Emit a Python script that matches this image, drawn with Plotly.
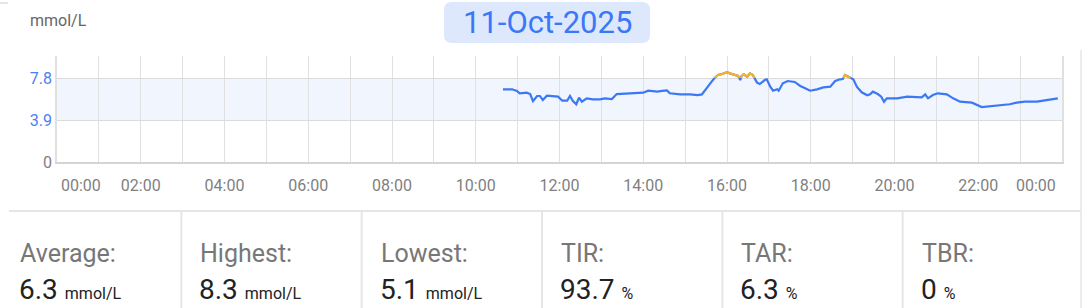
import plotly.graph_objects as go
import pandas as pd

# ---------------- data ----------------
day = "2025-10-11"
title_text = "11-Oct-2025"
unit_label = "mmol/L"

times = ["10:39", "10:52", "10:59", "11:03", "11:13", "11:18", "11:22", "11:28", "11:32", "11:36",
         "11:42", "11:51", "11:58", "12:04", "12:11", "12:15", "12:19", "12:24", "12:28", "12:32",
         "12:39", "12:48", "12:58", "13:05", "13:15", "13:22", "13:31", "13:41", "13:51", "14:00",
         "14:07", "14:14", "14:20", "14:27", "14:34", "14:38", "14:45", "14:53", "15:07", "15:18",
         "15:24", "15:31", "15:38", "15:41", "15:47", "15:53", "16:00", "16:04", "16:11", "16:16",
         "16:19", "16:21", "16:24", "16:29", "16:33", "16:37", "16:43", "16:47", "16:54", "16:57",
         "17:02", "17:06", "17:12", "17:14", "17:20", "17:27", "17:37", "17:45", "17:52", "17:59",
         "18:09", "18:18", "18:28", "18:35", "18:42", "18:46", "18:49", "18:53", "19:01", "19:06",
         "19:13", "19:21", "19:25", "19:29", "19:36", "19:41", "19:45", "19:49", "20:04", "20:18",
         "20:32", "20:39", "20:44", "20:48", "20:55", "21:02", "21:15", "21:24", "21:34", "21:51",
         "22:05", "22:21", "22:31", "22:45", "22:55", "23:07", "23:24", "23:33", "23:43", "23:54"]
glucose = [6.75, 6.75, 6.60, 6.38, 6.44, 6.31, 5.66, 6.13, 6.13, 5.76,
           6.16, 6.13, 6.07, 5.69, 5.69, 6.13, 5.69, 5.36, 5.97, 5.60,
           5.91, 5.82, 5.82, 5.91, 5.85, 6.31, 6.34, 6.34, 6.40, 6.44,
           6.62, 6.60, 6.53, 6.60, 6.65, 6.38, 6.34, 6.28, 6.28, 6.22,
           6.28, 6.93, 7.46, 7.71, 8.08, 8.17, 8.33, 8.23, 8.08, 7.99,
           7.61, 7.99, 8.14, 7.92, 8.23, 8.08, 7.37, 7.24, 7.61, 7.68,
           6.99, 6.62, 6.75, 6.62, 7.31, 7.52, 7.43, 7.06, 6.84, 6.62,
           6.75, 6.93, 6.99, 7.52, 7.68, 7.71, 8.08, 7.92, 7.68, 6.99,
           6.47, 6.19, 6.28, 6.53, 6.31, 6.07, 5.60, 5.91, 5.91, 6.07,
           6.07, 6.00, 6.28, 5.91, 6.22, 6.38, 6.28, 5.91, 5.60, 5.51,
           5.10, 5.20, 5.32, 5.36, 5.51, 5.60, 5.60, 5.69, 5.85, 5.91]

target_low = 3.9
target_high = 7.8
y_tick_vals = [0, 3.9, 7.8]
y_tick_text = ["0", "3.9", "7.8"]
x_label_hours = [2, 4, 6, 8, 10, 12, 14, 16, 18, 20, 22]
x_label_text = ["02:00", "04:00", "06:00", "08:00", "10:00", "12:00", "14:00",
                "16:00", "18:00", "20:00", "22:00"]

stat_labels = ["Average:", "Highest:", "Lowest:", "TIR:", "TAR:", "TBR:"]
stat_values = ["6.3", "8.3", "5.1", "93.7", "6.3", "0"]
stat_units = ["mmol/L", "mmol/L", "mmol/L", "%", "%", "%"]

# ---------------- styling ----------------
W, H = 1084, 308
L, R, T, B = 57, 1062, 56, 162
FONT = "Roboto"
BLUE = "#3b78f5"
ORANGE = "#f7b226"
GRID = "#e0e0e0"

base = pd.Timestamp(day)
t = [base + pd.Timedelta(hours=int(s[:2]), minutes=int(s[3:])) for s in times]


def px(xp):
    return (xp - L) / (R - L)


def py(yp):
    return (B - yp) / (B - T)


# orange (above target) segments, split at threshold crossings
ox, oy = [], []
for i in range(len(t) - 1):
    a, b = glucose[i], glucose[i + 1]
    if a <= target_high and b <= target_high:
        continue
    ta, tb = t[i], t[i + 1]
    if a > target_high and b > target_high:
        seg = [(ta, a), (tb, b)]
    else:
        f = (target_high - a) / (b - a)
        tc = ta + (tb - ta) * f
        seg = [(tc, target_high), (tb, b)] if b > target_high else [(ta, a), (tc, target_high)]
    if ox and ox[-1] is not None and ox[-1] == seg[0][0]:
        ox.append(seg[1][0]); oy.append(seg[1][1])
    else:
        if ox:
            ox.append(None); oy.append(None)
        ox += [seg[0][0], seg[1][0]]; oy += [seg[0][1], seg[1][1]]

fig = go.Figure()
fig.add_trace(go.Scatter(x=t, y=glucose, mode="lines",
                         line=dict(color=BLUE, width=2.2, shape="linear"),
                         hoverinfo="skip", showlegend=False))
fig.add_trace(go.Scatter(x=ox, y=oy, mode="lines",
                         line=dict(color=ORANGE, width=2.2),
                         hoverinfo="skip", showlegend=False, connectgaps=False))

shapes = []
# target band
shapes.append(dict(type="rect", xref="paper", yref="y", x0=0, x1=1,
                   y0=target_low, y1=target_high, fillcolor="#f1f5fe",
                   line=dict(width=0), layer="below"))
# title box (rounded)
bx0, bx1, by0, by1, r = 444, 650, 2, 43, 8
path = (f"M {px(bx0 + r)} {py(by0)} L {px(bx1 - r)} {py(by0)} "
        f"Q {px(bx1)} {py(by0)} {px(bx1)} {py(by0 + r)} "
        f"L {px(bx1)} {py(by1 - r)} Q {px(bx1)} {py(by1)} {px(bx1 - r)} {py(by1)} "
        f"L {px(bx0 + r)} {py(by1)} Q {px(bx0)} {py(by1)} {px(bx0)} {py(by1 - r)} "
        f"L {px(bx0)} {py(by0 + r)} Q {px(bx0)} {py(by0)} {px(bx0 + r)} {py(by0)} Z")
shapes.append(dict(type="path", xref="paper", yref="paper", path=path,
                   fillcolor="#dde8fd", line=dict(width=0)))
# card borders
CARD = "#e6e6e6"
shapes.append(dict(type="line", xref="paper", yref="paper", x0=px(0), x1=px(8),
                   y0=py(3), y1=py(3), line=dict(color=CARD, width=2)))
shapes.append(dict(type="line", xref="paper", yref="paper", x0=px(1081), x1=px(1081),
                   y0=py(50), y1=py(308), line=dict(color=CARD, width=1.5)))
shapes.append(dict(type="line", xref="paper", yref="paper", x0=px(9), x1=px(1081),
                   y0=py(211), y1=py(211), line=dict(color=CARD, width=2)))
col_w = (1083 - 1) / 6
for k in range(1, 6):
    xd = 1 + k * col_w
    shapes.append(dict(type="line", xref="paper", yref="paper", x0=px(xd), x1=px(xd),
                       y0=py(211), y1=py(308), line=dict(color=CARD, width=2)))

annotations = []
annotations.append(dict(text=title_text, xref="paper", yref="paper", x=px(547), y=py(23),
                        xanchor="center", yanchor="middle", showarrow=False,
                        font=dict(family=FONT, size=31, color=BLUE)))
annotations.append(dict(text=unit_label, xref="paper", yref="paper", x=px(28), y=py(21),
                        xanchor="left", yanchor="middle", showarrow=False,
                        font=dict(family=FONT, size=16, color="#666666")))
# end labels of x axis (shifted inside like the reference)
TICKC = "#7f7f7f"
annotations.append(dict(text="00:00", xref="x", yref="paper", x=base, y=py(185),
                        xanchor="left", yanchor="middle", showarrow=False, xshift=2,
                        font=dict(family=FONT, size=16, color=TICKC)))
annotations.append(dict(text="00:00", xref="x", yref="paper", x=base + pd.Timedelta(days=1),
                        y=py(185), xanchor="right", yanchor="middle", showarrow=False, xshift=-4,
                        font=dict(family=FONT, size=16, color=TICKC)))
for k in range(6):
    x0 = 18 + k * col_w
    annotations.append(dict(text=stat_labels[k], xref="paper", yref="paper", x=px(x0), y=py(253),
                            xanchor="left", yanchor="middle", showarrow=False,
                            font=dict(family=FONT, size=25, color="#777777")))
    annotations.append(dict(text=f"{stat_values[k]} <span style='font-size:16px'>{stat_units[k]}</span>",
                            xref="paper", yref="paper", x=px(x0 - 1), y=py(289),
                            xanchor="left", yanchor="middle", showarrow=False,
                            font=dict(family=FONT, size=28, color="#222222")))

ytext = [f"<span style='color:#4a80f5'>{s}</span>" if v > 0 else s
         for v, s in zip(y_tick_vals, y_tick_text)]

fig.update_layout(
    width=W, height=H, margin=dict(l=L, r=W - R, t=T, b=H - B),
    paper_bgcolor="white", plot_bgcolor="white",
    shapes=shapes, annotations=annotations,
    font=dict(family=FONT, size=16, color=TICKC),
    xaxis=dict(type="date", range=[base, base + pd.Timedelta(days=1)],
               tickvals=[base + pd.Timedelta(hours=h) for h in x_label_hours],
               ticktext=x_label_text, ticks="", ticklabelstandoff=8,
               showgrid=True, gridcolor=GRID, gridwidth=1,
               minor=dict(dtick=3600000, tick0=base, showgrid=True, gridcolor=GRID, gridwidth=1),
               showline=True, linecolor="#d4d4d4", linewidth=1.5, zeroline=False,
               tickfont=dict(family=FONT, size=16, color=TICKC), fixedrange=True),
    yaxis=dict(range=[0, (B - T) * 3.9 / 42], tickvals=y_tick_vals, ticktext=ytext,
               ticks="", showgrid=True, gridcolor="#dcdcdc", gridwidth=1,
               showline=True, linecolor=GRID, linewidth=1.5, mirror=True, zeroline=False,
               tickfont=dict(family=FONT, size=16, color=TICKC), fixedrange=True),
)

fig.write_html("out.html", config={"displayModeBar": False})
